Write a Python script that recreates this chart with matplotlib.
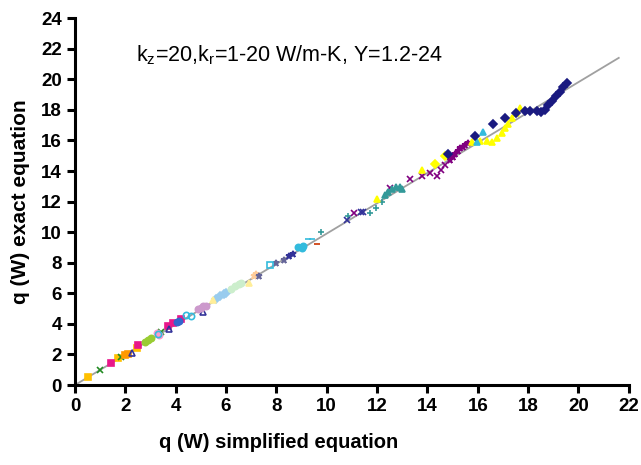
import numpy as np
import matplotlib.pyplot as plt

plt.rcParams['font.family'] = ['Liberation Sans', 'DejaVu Sans']

# reference line (y = x fit)
line_x = [0.0, 21.6]
line_y = [0.0, 21.4]

# data series
gold_x = [0.52, 1.7, 2.46]
gold_y = [0.52, 1.77, 2.42]
greenx_x = [1.0, 1.83, 3.4]
greenx_y = [0.98, 1.83, 3.47]
pink_x = [1.43, 2.5, 3.7, 3.9, 4.2]
pink_y = [1.44, 2.6, 3.86, 4.05, 4.3]
orange_x = [2.0, 2.1]
orange_y = [1.96, 2.0]
navytri_x = [2.26, 3.73, 5.1]
navytri_y = [2.09, 3.66, 4.75]
lime_x = [2.8, 2.9, 3.0]
lime_y = [2.8, 2.94, 3.05]
rose_x = [3.26, 3.35]
rose_y = [3.4, 3.3]
cyanring_x = [3.3, 4.4, 4.6]
cyanring_y = [3.35, 4.6, 4.5]
blue_x = [4.05, 4.15]
blue_y = [4.15, 4.2]
lav_x = [4.9, 5.0, 5.1, 5.2]
lav_y = [4.95, 5.05, 5.15, 5.2]
ltblue_x = [5.6, 5.75, 5.9, 6.0]
ltblue_y = [5.65, 5.8, 5.95, 6.05]
ltyellow_x = [5.5, 6.9]
ltyellow_y = [5.55, 6.7]
ltgreen_x = [6.2, 6.35, 6.5, 6.6]
ltgreen_y = [6.3, 6.45, 6.6, 6.7]
peach_x = [7.1, 7.2]
peach_y = [7.15, 7.25]
slate_x = [7.3, 8.0, 8.3]
slate_y = [7.1, 8.0, 8.2]
cyansq_x = [7.74]
cyansq_y = [7.85]
cyan_x = [8.85, 9.05, 9.0]
cyan_y = [9.0, 9.1, 8.95]
navystar_x = [8.5, 8.66]
navystar_y = [8.45, 8.6]
cyandash_x = [9.25, 9.4]
cyandash_y = [9.55, 9.55]
brown_x = [9.6]
brown_y = [9.2]
tealplus_x = [9.77, 10.84, 11.7, 11.95, 12.2]
tealplus_y = [10.0, 11.05, 11.25, 11.6, 12.0]
navyx_x = [10.8, 11.36, 11.45]
navyx_y = [10.8, 11.3, 11.35]
purplex_x = [11.1, 12.5, 13.3, 13.8, 14.1, 14.4, 14.55, 14.7]
purplex_y = [11.25, 12.9, 13.5, 13.7, 13.9, 13.7, 14.06, 14.4]
teal_x = [12.3, 12.45, 12.6, 12.75, 12.9, 13.0]
teal_y = [12.4, 12.6, 12.8, 12.95, 12.95, 12.85]
purple_x = [14.9, 15.0, 15.1, 15.2, 15.3, 15.4, 15.5, 15.6]
purple_y = [14.7, 14.9, 15.1, 15.3, 15.5, 15.6, 15.7, 15.8]
yellow_x = [12.0, 13.8, 15.77, 16.1, 16.35, 16.56, 16.75, 16.95, 17.08, 17.2, 17.35, 17.5, 17.67]
yellow_y = [12.2, 14.06, 15.9, 15.95, 15.95, 15.9, 16.15, 16.5, 16.8, 17.1, 17.45, 17.8, 18.1]
yelldia_x = [14.3, 14.7]
yelldia_y = [14.45, 15.0]
cyantri_x = [15.96, 16.2]
cyantri_y = [15.9, 16.55]
navy_x = [14.8, 15.9, 16.6, 17.1, 17.5, 17.87, 18.07, 18.35, 18.5, 18.67, 18.8, 18.95, 19.1, 19.25, 19.4, 19.54]
navy_y = [15.1, 16.3, 17.07, 17.46, 17.8, 17.9, 17.9, 17.9, 17.85, 18.0, 18.3, 18.6, 18.9, 19.2, 19.5, 19.75]

series = [
    (gold_x, gold_y, 's', '#FFC000', True),
    (greenx_x, greenx_y, 'x', '#228B22', True),
    (pink_x, pink_y, 's', '#E8178A', True),
    (orange_x, orange_y, 's', '#FF9900', True),
    (navytri_x, navytri_y, '^', '#333399', False),
    (lime_x, lime_y, 'o', '#99CC33', True),
    (rose_x, rose_y, 'o', '#FF99CC', True),
    (cyanring_x, cyanring_y, 'o', '#33BBDD', False),
    (blue_x, blue_y, 'o', '#3366CC', True),
    (lav_x, lav_y, 'o', '#CC99CC', True),
    (ltblue_x, ltblue_y, 'D', '#99CCEE', True),
    (ltyellow_x, ltyellow_y, '^', '#FFEE99', True),
    (ltgreen_x, ltgreen_y, 'o', '#CCEECC', True),
    (peach_x, peach_y, '*', '#FFCC99', True),
    (slate_x, slate_y, '*', '#666699', True),
    (cyansq_x, cyansq_y, 's', '#33BBDD', False),
    (cyan_x, cyan_y, 'o', '#33BBDD', True),
    (navystar_x, navystar_y, '*', '#333399', True),
    (cyandash_x, cyandash_y, '_', '#33BBDD', True),
    (brown_x, brown_y, '_', '#CC3300', True),
    (tealplus_x, tealplus_y, '+', '#339999', True),
    (navyx_x, navyx_y, 'x', '#333399', True),
    (purplex_x, purplex_y, 'x', '#800080', True),
    (teal_x, teal_y, '^', '#339999', True),
    (purple_x, purple_y, '*', '#800080', True),
    (yellow_x, yellow_y, '^', '#FFFF00', True),
    (yelldia_x, yelldia_y, 'D', '#FFFF00', True),
    (cyantri_x, cyantri_y, '^', '#33BBDD', True),
    (navy_x, navy_y, 'D', '#1A1A80', True),
]

fig = plt.figure(figsize=(6.41, 4.65), dpi=100)
ax = fig.add_axes([0.117, 0.172, 0.864, 0.789])

ax.plot(line_x, line_y, color='#A0A0A0', lw=1.3, zorder=1)
for xs, ys, m, c, filled in series:
    ax.plot(xs, ys, linestyle='none', marker=m, markersize=4.5,
            color=c, markerfacecolor=c if filled else 'none',
            markeredgewidth=1.2, zorder=2)

ax.set_xlim(0, 22)
ax.set_ylim(0, 24)
ax.set_xticks(np.arange(0, 23, 2))
ax.set_yticks(np.arange(0, 25, 2))
for s in ['top', 'right']:
    ax.spines[s].set_visible(False)
for s in ['left', 'bottom']:
    ax.spines[s].set_linewidth(2.2)
ax.tick_params(direction='out', length=6, width=2.2, labelsize=13.5)
for lab in ax.get_xticklabels() + ax.get_yticklabels():
    lab.set_fontweight('bold')

ax.set_xlabel('q (W) simplified equation', fontsize=14.5, fontweight='bold')
ax.xaxis.set_label_coords(0.368, -0.13)
ax.set_ylabel('q (W) exact equation', fontsize=15, fontweight='bold', labelpad=8)
ax.text(2.42, 21.6, r'k$_\mathregular{z}$=20,k$_\mathregular{r}$=1-20 W/m-K, Y=1.2-24',
        fontsize=15.5, va='center')

fig.savefig('out.png', dpi=100)
